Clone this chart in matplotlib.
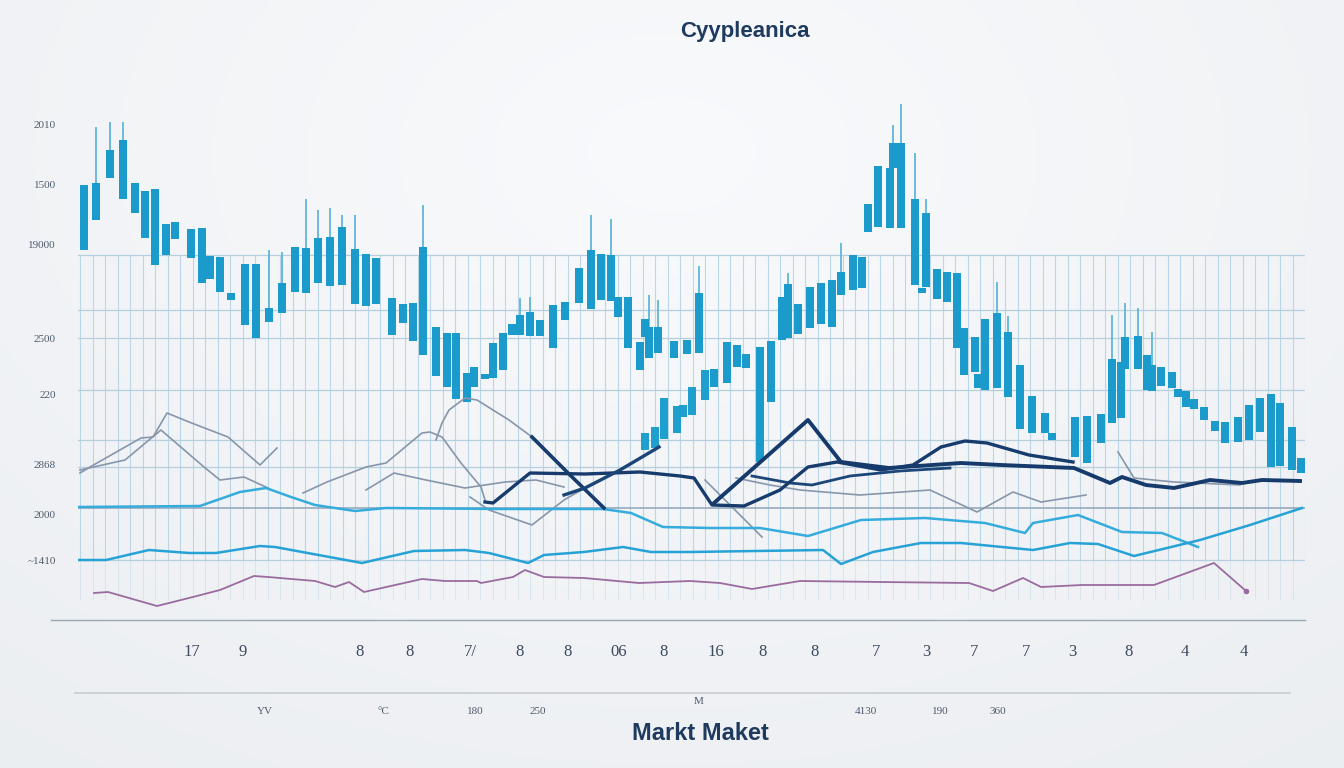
import numpy as np
import matplotlib.pyplot as plt
from matplotlib.lines import Line2D

# ---- data -------------------------------------------------------------
# candles: time, body top, body bottom, upper wick (nan = none)
candle_t = [0.6, 1.8, 3.2, 4.5, 5.7, 6.7, 7.7, 8.8, 9.7, 11.3, 12.4, 13.2, 14.2, 15.3,
            16.7, 17.8, 19.1, 20.4, 21.7, 22.8, 24.0, 25.2, 26.4, 27.7, 28.8, 29.8,
            31.4, 32.5, 33.5, 34.5, 35.8, 36.9, 37.8, 38.9, 39.6, 40.7, 41.5, 42.5,
            43.4, 44.2, 45.2, 46.2, 47.5, 48.7, 50.1, 51.3, 52.3, 53.3, 54.0, 55.0,
            56.2, 56.7, 57.1, 58.0, 59.6, 60.9, 62.1, 63.6, 64.9, 65.9, 66.8, 68.2,
            69.3, 70.4, 71.0, 72.0, 73.2, 74.3, 75.4, 76.3, 77.5, 78.4, 79.0, 80.0,
            81.2, 81.5, 82.3, 83.7, 84.4, 84.8, 85.9, 86.9, 87.9, 88.6, 89.7, 90.0,
            90.7, 91.9, 93.0, 94.2, 95.4, 96.7, 97.4, 99.7, 100.9, 102.3, 103.4,
            104.3, 104.7, 106.0, 106.9, 107.4, 108.3, 109.4, 110.0, 110.8, 111.6,
            112.6, 113.7, 114.7, 116.0, 117.1, 118.2, 119.3, 120.2, 121.4, 122.3]
candle_top = [435, 437, 470, 480, 437, 429, 431, 396, 398, 391, 392, 364, 363, 327,
              356, 356, 312, 337, 373, 372, 382, 383, 393, 371, 366, 362,
              322, 316, 317, 373, 293, 287, 287, 247, 253, 246, 277, 287,
              296, 305, 308, 300, 315, 318, 352, 370, 366, 365, 323, 323,
              278, 301, 293, 293, 279, 280, 327, 251, 278, 275, 266, 273,
              279, 323, 336, 316, 333, 337, 340, 348, 365, 363, 416, 454,
              452, 477, 477, 421, 332, 407, 351, 348, 347, 292, 283, 246,
              301, 307, 288, 255, 224, 207, 187, 203, 204, 206, 261,
              258, 283, 284, 265, 255, 253, 248, 231, 229, 221,
              213, 199, 198, 203, 215, 222, 226, 217, 193, 162]
candle_bot = [370, 400, 442, 421, 407, 382, 355, 365, 381, 362, 337, 341, 328, 320,
              295, 282, 298, 307, 328, 327, 337, 334, 335, 316, 314, 316,
              285, 297, 279, 265, 244, 233, 221, 218, 233, 241, 242, 250,
              285, 285, 284, 284, 272, 300, 317, 311, 320, 319, 303, 272,
              250, 283, 262, 267, 262, 266, 267, 233, 237, 253, 252, 158,
              218, 280, 282, 286, 292, 296, 293, 325, 330, 332, 388, 393,
              392, 452, 392, 335, 327, 333, 321, 318, 272, 245, 248, 232,
              230, 232, 223, 191, 187, 187, 180, 163, 157, 177, 197,
              202, 251, 251, 230, 229, 234, 232, 223, 213, 211,
              200, 189, 177, 178, 180, 188, 153, 154, 150, 147]
nan = np.nan
candle_wick = [nan, 493, 498, 498, nan, nan, nan, nan, nan, nan, nan, nan, nan, nan,
               nan, nan, 370, 368, nan, 421, 410, 412, 405, 405, nan, nan,
               nan, nan, nan, 415, nan, nan, nan, nan, nan, nan, nan, nan,
               nan, 322, 323, nan, nan, nan, nan, 405, nan, 401, nan, nan,
               nan, nan, 325, 320, nan, nan, 354, nan, nan, nan, nan, nan,
               nan, nan, 347, nan, nan, nan, nan, 377, nan, nan, nan, nan,
               nan, 495, 516, 467, nan, 421, nan, nan, nan, nan, nan, nan,
               nan, 338, 304, nan, nan, nan, nan, nan, nan, nan, 305,
               nan, 317, 312, nan, 288, nan, nan, nan, nan, nan,
               nan, nan, nan, nan, nan, nan, nan, nan, nan, nan]

# second, lower cluster of candles
dip_t = [56.7, 57.7, 58.6, 59.9, 60.5, 61.4, 62.7]
dip_top = [187, 193, 222, 214, 215, 233, 250]
dip_bot = [170, 172, 181, 187, 203, 205, 220]

# light blue line
lb_t = [0, 12.2, 16.2, 18.8, 21.3, 23.7, 27.7, 30.8, 42.2, 52.5, 55.3, 58.5, 63.2,
        68.2, 73.0, 78.3, 84.7, 90.7, 94.7, 95.5, 100.0, 104.4, 108.4, 112.0]
lb_v = [113, 114, 128, 132, 123, 115, 109, 112, 111, 111, 107, 93, 92,
        92, 84, 100, 102, 97, 87, 97, 105, 88, 87, 73]
# mid blue line
mb_t = [0, 2.8, 7.1, 11.1, 13.8, 18.2, 19.7, 28.4, 33.6, 38.7, 41.1, 45.0, 46.6,
        50.6, 54.5, 57.3, 61.2, 74.5, 76.3, 79.5, 84.3, 88.3, 95.5, 99.2, 102.0,
        105.6, 112.2, 117.2, 122.4]
mb_v = [60, 60, 70, 67, 67, 74, 73, 57, 69, 70, 67, 57, 65,
        68, 73, 68, 68, 70, 56, 68, 77, 77, 70, 77, 76,
        64, 80, 95, 112]
# purple line
pu_t = [1.6, 3.0, 7.9, 11.1, 14.2, 17.6, 19.0, 23.7, 25.7, 27.1, 28.6, 34.4, 36.7,
        39.9, 40.3, 43.5, 44.7, 46.6, 50.6, 56.1, 61.2, 64.2, 67.4, 72.2, 80.3,
        89.1, 91.5, 94.5, 96.3, 100.4, 107.6, 113.6, 116.8]
pu_v = [27, 28, 14, 22, 30, 44, 43, 39, 33, 38, 28, 41, 39,
        39, 37, 43, 50, 43, 42, 37, 39, 37, 31, 39, 38,
        37, 29, 42, 33, 35, 35, 57, 29]

# navy lines
n1_t = [40.7, 41.5, 45.2, 50.7, 56.2, 60.2, 61.6, 63.4, 66.6, 70.2, 73.0, 75.9,
        80.3, 83.5, 86.3, 88.7, 90.9, 95.1, 99.5]
n1_v = [118, 117, 147, 146, 148, 144, 142, 115, 114, 130, 153, 158,
        150, 155, 173, 179, 177, 165, 158]
n2_t = [45.4, 49.2, 52.6]
n2_v = [183, 145, 112]
n3_t = [48.6, 50.7, 54.2, 58.1]
n3_v = [125, 132, 150, 173]
n4_t = [63.6, 73.0, 76.3, 81.1, 88.3, 92.3, 99.6, 103.2, 104.4, 106.8, 109.6,
        113.2, 116.4, 118.4, 122.2]
n4_v = [117, 200, 158, 152, 157, 155, 152, 137, 143, 135, 132, 140, 137, 140, 139]
n5_t = [67.4, 71.2, 73.4, 77.2, 82.2, 87.2]
n5_v = [144, 137, 135, 144, 149, 152]

# thin grey lines
grey_lines = [
    ([0.2, 1.2, 6.3, 7.5, 8.9, 11.1, 15.0, 18.2, 19.9],
     [147, 153, 182, 183, 207, 198, 183, 155, 172]),
    ([0.2, 4.7, 8.3, 12.6, 14.2, 16.6, 19.0],
     [150, 160, 190, 153, 140, 143, 132]),
    ([22.5, 24.9, 28.8, 30.8, 34.4, 35.2, 36.4, 38.3, 40.3, 40.7],
     [127, 138, 153, 157, 187, 188, 183, 157, 133, 120]),
    ([35.8, 36.4, 37.1, 38.7, 39.9, 43.1, 45.4],
     [180, 197, 210, 222, 220, 200, 183]),
    ([28.8, 31.6, 34.8, 38.7, 42.7, 45.8, 48.6],
     [130, 147, 140, 132, 138, 140, 133]),
    ([39.2, 41.1, 45.4, 48.6, 51.2],
     [123, 110, 95, 120, 135]),
    ([65.8, 69.2, 72.2, 78.2, 85.2, 89.9, 93.5, 96.3, 100.8],
     [142, 135, 130, 125, 130, 108, 128, 118, 125]),
    ([104.0, 105.6, 109.6, 116.2],
     [168, 142, 138, 135]),
    ([62.7, 65.7, 68.4],
     [140, 110, 83]),
]

ytick_vals = [496, 435, 375, 282, 226, 156, 106, 60]
ytick_text = ['2010', '1500', '19000', '2500', '220', '2868', '2000', '~1410']
xtick_vals = [11.4, 16.5, 28.2, 33.2, 39.2, 44.2, 49.0, 54.1, 58.6, 63.8, 68.5,
              73.7, 79.8, 84.8, 89.6, 94.8, 99.4, 105.1, 110.7, 116.6]
xtick_text = ['17', '9', '8', '8', '7/', '8', '8', '06', '8', '16', '8',
              '8', '7', '3', '7', '7', '3', '8', '4', '4']
hgrid_vals = [365, 310, 282, 230, 180, 153, 60]
sub_labels = ['YV', '°C', '180', '250', 'M', '4130', '190', '360']
sub_x = [265, 383, 475, 538, 699, 866, 940, 998]

# ---- figure -------------------------------------------------------------
W, H = 1344, 768
fig = plt.figure(figsize=(W / 100, H / 100), dpi=100)

# soft radial background
bg = fig.add_axes([0, 0, 1, 1], zorder=-5)
yy, xx = np.mgrid[0:1:200j, 0:1:350j]
r = np.sqrt(((xx - 0.5) / 0.75) ** 2 + ((yy - 0.2) / 0.9) ** 2)
shade = np.clip(1 - 0.2 * r, 0, 1)
base = np.array([0.975, 0.98, 0.988])
img = np.dstack([shade * base[i] + (1 - shade) * (0.74 + 0.03 * i) for i in range(3)])
bg.imshow(img, aspect='auto', extent=[0, 1, 0, 1], origin='upper')
bg.axis('off')

ax = fig.add_axes([78 / W, (H - 620) / H, (1305 - 78) / W, 520 / H])
ax.set_facecolor('none')
ax.set_xlim(0, 122.7)
ax.set_ylim(0, 520)
for s in ax.spines.values():
    s.set_visible(False)

# grid
ax.vlines(np.arange(0.2, 122.8, 1.25), 60, 365, color='#a9cde2', lw=0.8, alpha=0.75, zorder=1)
ax.vlines(np.arange(0.2, 122.8, 1.25), 20, 60, color='#c3d8e5', lw=0.7, alpha=0.5, zorder=1)
for v in hgrid_vals:
    ax.axhline(v, color='#b6cfdf', lw=0.9, zorder=1)
ax.axhline(112, color='#8fa4b8', lw=1.1, zorder=1)
ax.axhline(0, xmin=-0.022, color='#9aa6b2', lw=1.0, clip_on=False, zorder=1)

# candles
ax.vlines(candle_t, candle_top, candle_wick, color='#5fb6d9', lw=1.3, zorder=2)
ax.bar(candle_t, np.array(candle_top) - np.array(candle_bot), bottom=candle_bot,
       width=0.85, color='#1a9bcb', zorder=3)
ax.bar(dip_t, np.array(dip_top) - np.array(dip_bot), bottom=dip_bot,
       width=0.85, color='#1f9fcd', zorder=3)

# lines
for gx, gy in grey_lines:
    ax.plot(gx, gy, color='#8796aa', lw=1.2, zorder=4)
ax.plot(lb_t, lb_v, color='#35acdc', lw=1.8, zorder=4)
ax.plot(mb_t, mb_v, color='#26a2d6', lw=1.8, zorder=4)
ax.plot(pu_t, pu_v, color='#9a6b9e', lw=1.3, zorder=4)
ax.plot(pu_t[-1:], pu_v[-1:], 'o', color='#9a6b9e', ms=3, zorder=4)
ax.plot(n5_t, n5_v, color='#1d4678', lw=2.0, zorder=5)
ax.plot(n1_t, n1_v, color='#173b6c', lw=2.4, zorder=5)
ax.plot(n2_t, n2_v, color='#173b6c', lw=2.6, zorder=5)
ax.plot(n3_t, n3_v, color='#1b4577', lw=2.4, zorder=5)
ax.plot(n4_t, n4_v, color='#163a6b', lw=2.8, zorder=5)

# ticks
ax.set_yticks(ytick_vals)
ax.set_yticklabels(ytick_text, fontsize=8, color='#4f5b6b', family='Liberation Serif')
ax.set_xticks(xtick_vals)
ax.set_xticklabels(xtick_text, fontsize=12, color='#3c4a5e', family='Liberation Serif')
ax.tick_params(axis='y', length=0, pad=16)
ax.tick_params(axis='x', length=0, pad=17)

# separator and secondary labels
fig.add_artist(Line2D([75 / W, 1290 / W], [1 - 693 / H, 1 - 693 / H],
                      color='#c5ccd3', lw=1.2))
for lab, px in zip(sub_labels, sub_x):
    py = 702 if lab == 'M' else 712
    fig.text(px / W, 1 - py / H, lab, fontsize=8, color='#4f5b6b',
             family='Liberation Serif', ha='center', va='center')

fig.text(745 / W, 1 - 32 / H, 'Cyypleanica', fontsize=16, fontweight='bold',
         color='#1f3a5f', family='Liberation Sans', ha='center', va='center')
fig.text(700 / W, 1 - 734 / H, 'Markt Maket', fontsize=17, fontweight='bold',
         color='#1f3a5f', family='Liberation Sans', ha='center', va='center')

fig.savefig('out.png', dpi=100)
